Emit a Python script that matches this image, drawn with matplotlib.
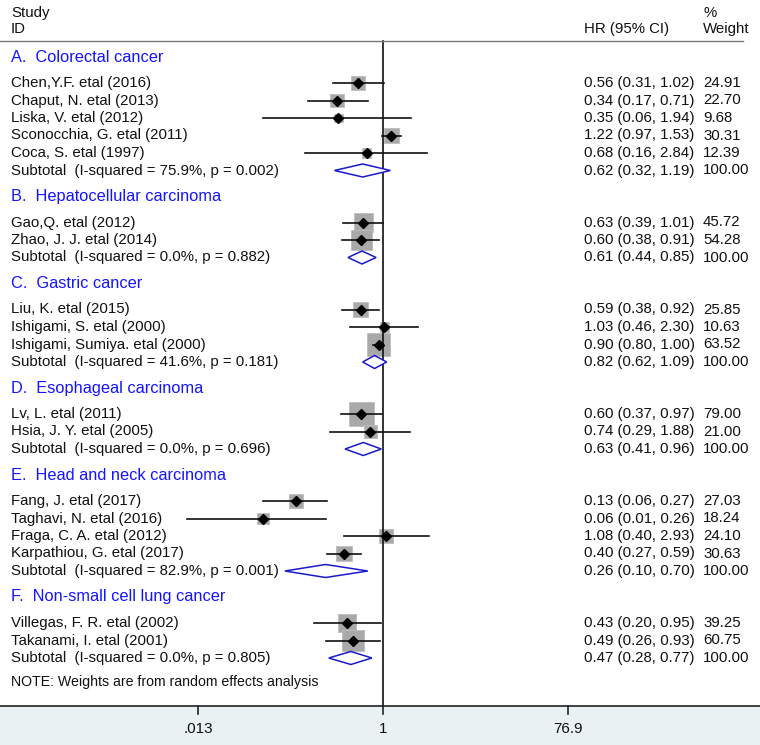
import numpy as np
import matplotlib
matplotlib.use("Agg")
import matplotlib.pyplot as plt
from matplotlib.patches import Polygon, Rectangle
import matplotlib.transforms as mtrans

plt.rcParams['font.family'] = ['Liberation Sans', 'DejaVu Sans']

# ---------------- data ----------------
groups = ["A.  Colorectal cancer", "B.  Hepatocellular carcinoma", "C.  Gastric cancer",
          "D.  Esophageal carcinoma", "E.  Head and neck carcinoma", "F.  Non-small cell lung cancer"]

studies = [
    ["Chen,Y.F. etal (2016)", "Chaput, N. etal (2013)", "Liska, V. etal (2012)",
     "Sconocchia, G. etal (2011)", "Coca, S. etal (1997)"],
    ["Gao,Q. etal (2012)", "Zhao, J. J. etal (2014)"],
    ["Liu, K. etal (2015)", "Ishigami, S. etal (2000)", "Ishigami, Sumiya. etal (2000)"],
    ["Lv, L. etal (2011)", "Hsia, J. Y. etal (2005)"],
    ["Fang, J. etal (2017)", "Taghavi, N. etal (2016)", "Fraga, C. A. etal (2012)",
     "Karpathiou, G. etal (2017)"],
    ["Villegas, F. R. etal (2002)", "Takanami, I. etal (2001)"],
]
hr = [[0.56, 0.34, 0.35, 1.22, 0.68], [0.63, 0.60], [0.59, 1.03, 0.90],
      [0.60, 0.74], [0.13, 0.06, 1.08, 0.40], [0.43, 0.49]]
lo = [[0.31, 0.17, 0.06, 0.97, 0.16], [0.39, 0.38], [0.38, 0.46, 0.80],
      [0.37, 0.29], [0.06, 0.01, 0.40, 0.27], [0.20, 0.26]]
hi = [[1.02, 0.71, 1.94, 1.53, 2.84], [1.01, 0.91], [0.92, 2.30, 1.00],
      [0.97, 1.88], [0.27, 0.26, 2.93, 0.59], [0.95, 0.93]]
weight = [[24.91, 22.70, 9.68, 30.31, 12.39], [45.72, 54.28], [25.85, 10.63, 63.52],
          [79.00, 21.00], [27.03, 18.24, 24.10, 30.63], [39.25, 60.75]]

sub_label = ["Subtotal  (I-squared = 75.9%, p = 0.002)", "Subtotal  (I-squared = 0.0%, p = 0.882)",
             "Subtotal  (I-squared = 41.6%, p = 0.181)", "Subtotal  (I-squared = 0.0%, p = 0.696)",
             "Subtotal  (I-squared = 82.9%, p = 0.001)", "Subtotal  (I-squared = 0.0%, p = 0.805)"]
sub_hr = [0.62, 0.61, 0.82, 0.63, 0.26, 0.47]
sub_lo = [0.32, 0.44, 0.62, 0.41, 0.10, 0.28]
sub_hi = [1.19, 0.85, 1.09, 0.96, 0.70, 0.77]

xticks = [0.013, 1, 76.9]
xticklabels = [".013", "1", "76.9"]

# ---------------- layout ----------------
W, H = 760, 745
fig = plt.figure(figsize=(W / 100, H / 100), dpi=100)
ax = fig.add_axes([0, 0, 1, 1])
ax.set_xscale('log')
pxlog = 42.6      # pixels per natural-log unit
x_one = 383.0     # pixel position of HR = 1
ax.set_xlim(np.exp(-x_one / pxlog), np.exp((W - x_one) / pxlog))
ax.set_ylim(H, 0)
ax.axis('off')

def xfrac(px):
    return px / W
tb = mtrans.blended_transform_factory(ax.transAxes, ax.transData)

txt_kw = dict(fontsize=10.8, color='#111111', va='center')
blue = '#1414ff'

# background band & axis
ax.add_patch(Rectangle((0, 706), 1, H - 706, transform=tb, facecolor='#e9f1f3',
                       edgecolor='none', zorder=0))
ax.plot([0, 1], [706, 706], transform=tb, color='#222222', lw=1.2, zorder=3)
ax.plot([0, 0.978], [41, 41], transform=tb, color='#777777', lw=1.0, zorder=3)
ax.plot([1, 1], [41, 706], color='#111111', lw=1.2, zorder=2)
for t, lab in zip(xticks, xticklabels):
    ax.plot([t, t], [706, 714], color='#222222', lw=1.2, zorder=3)
    ax.text(t, 729, lab, ha='center', va='center', fontsize=11, color='#111111')

# headers
ax.text(xfrac(11), 13, "Study", transform=tb, **txt_kw)
ax.text(xfrac(11), 29, "ID", transform=tb, **txt_kw)
ax.text(xfrac(584), 29, "HR (95% CI)", transform=tb, **txt_kw)
ax.text(xfrac(703), 13, "%", transform=tb, **txt_kw)
ax.text(xfrac(703), 29, "Weight", transform=tb, **txt_kw)

step = 17.5
gap = 26
y = 57.0
box_k = 2.8       # box side (px) per sqrt(weight)
for g in range(len(groups)):
    ax.text(xfrac(11), y, groups[g], transform=tb, fontsize=11.8, color=blue, va='center')
    y += gap
    for s in range(len(studies[g])):
        ax.text(xfrac(11), y, studies[g][s], transform=tb, **txt_kw)
        ax.text(xfrac(584), y, f"{hr[g][s]:.2f} ({lo[g][s]:.2f}, {hi[g][s]:.2f})",
                transform=tb, **txt_kw)
        ax.text(xfrac(703), y, f"{weight[g][s]:.2f}", transform=tb, **txt_kw)
        side = box_k * np.sqrt(weight[g][s])
        c = np.log(hr[g][s])
        x0 = np.exp(c - side / 2 / pxlog)
        x1 = np.exp(c + side / 2 / pxlog)
        ax.add_patch(Rectangle((x0, y - side / 2), x1 - x0, side, facecolor='#a9a9a9',
                               edgecolor='#bdbdbd', lw=0.6, zorder=1))
        ax.plot([lo[g][s], hi[g][s]], [y, y], color='#111111', lw=1.2, zorder=4)
        ax.plot([hr[g][s]], [y], marker='D', ms=4.6, color='black', zorder=5)
        y += step
    ax.text(xfrac(11), y, sub_label[g], transform=tb, **txt_kw)
    ax.text(xfrac(584), y, f"{sub_hr[g]:.2f} ({sub_lo[g]:.2f}, {sub_hi[g]:.2f})",
            transform=tb, **txt_kw)
    ax.text(xfrac(703), y, "100.00", transform=tb, **txt_kw)
    dh = 6.5
    ax.add_patch(Polygon([(sub_lo[g], y), (sub_hr[g], y - dh), (sub_hi[g], y),
                          (sub_hr[g], y + dh)], closed=True, facecolor='white',
                         edgecolor='#1a1acc', lw=1.1, zorder=4))
    y += gap

ax.text(xfrac(11), y - gap + 24, "NOTE: Weights are from random effects analysis",
        transform=tb, fontsize=10.2, color='#111111', va='center')

fig.savefig("out.png", dpi=100)
